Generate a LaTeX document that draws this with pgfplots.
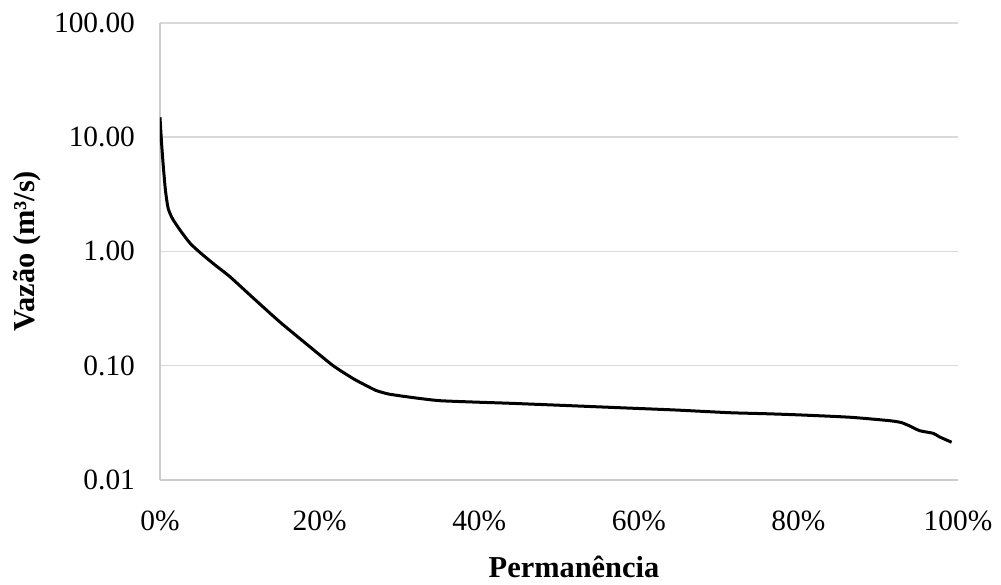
\documentclass[border=0pt]{standalone}
\usepackage{fontspec}
\setmainfont{Liberation Serif}
\usepackage{pgfplots}
\pgfplotsset{compat=1.18}
\definecolor{gridc}{HTML}{D9D9D9}
\definecolor{axisc}{HTML}{CCCCCC}
\begin{document}
\begin{tikzpicture}
\begin{axis}[
  scale only axis, width=399pt, height=228.6pt,
  at={(0,0)}, anchor=south west,
  xmin=0, xmax=100, ymin=0.01, ymax=100, ymode=log,
  axis x line*=bottom, axis y line*=left,
  x axis line style={-}, y axis line style={-},
  axis line style={draw=axisc, line width=0.75pt},
  ytick={0.01,0.1,1,10,100}, yticklabels={0.01,0.10,1.00,10.00,100.00},
  xtick={0,20,40,60,80,100}, xticklabels={0\%,20\%,40\%,60\%,80\%,100\%},
  major tick length=0pt, minor tick length=0pt,
  ymajorgrids, major grid style={draw=gridc, line width=0.75pt},
  tick label style={font=\fontsize{14.7}{17}\selectfont},
  yticklabel style={xshift=-9pt},
  xticklabel style={yshift=-11.7pt},
  xlabel={Permanência}, ylabel={Vazão (m³/s)},
  label style={font=\bfseries\fontsize{15.2}{18}\selectfont},
  xlabel style={at={(axis description cs:0.5188,-0.2122)}, anchor=base},
  ylabel style={at={(axis description cs:-0.1667,0.5)}, anchor=center},
]
\addplot[black, line width=1.5pt, line join=round, smooth, tension=0.35] coordinates {
(0,14.9) (0.2,8.8) (0.42,5.5) (0.65,3.6) (0.84,2.82) (1.04,2.35) (1.34,2.08) (1.67,1.88)
(2.5,1.54) (3.76,1.18) (5.0,0.98) (6.8,0.77) (8.77,0.60) (11.7,0.39) (15.0,0.242)
(18.2,0.158) (21.7,0.1) (24.2,0.0772) (25.7,0.0678) (27.1,0.0606) (28.6,0.0566)
(30.5,0.0540) (33.0,0.0512) (35.1,0.0494) (38.9,0.0482) (43.9,0.0469) (50.7,0.0449) (57.6,0.0429) (64.5,0.041)
(71.4,0.0388) (76.0,0.0380) (80.2,0.0371) (86.5,0.0354) (91.5,0.0330) (92.9,0.0318) (93.9,0.0298)
(95.2,0.0270) (96.9,0.0256) (97.7,0.0238) (99.2,0.0214)
};
\end{axis}
\pgfresetboundingbox
\useasboundingbox (-80pt,-52pt) rectangle (420.5pt,240pt);
\end{tikzpicture}
\end{document}
